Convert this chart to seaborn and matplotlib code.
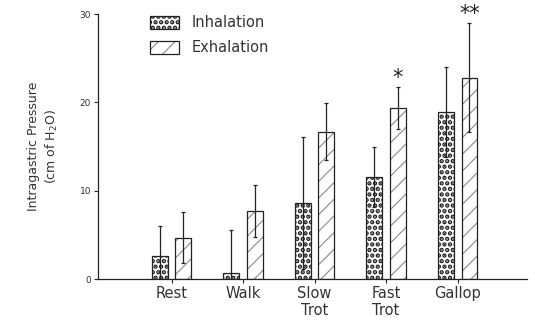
import matplotlib
matplotlib.use("Agg")
import matplotlib.pyplot as plt
import matplotlib.colors as mcolors
import seaborn as sns
import pandas as pd

# ---- data ----
activities = ["Rest", "Walk", "Slow\nTrot", "Fast\nTrot", "Gallop"]
inhalation = [2.6, 0.7, 8.6, 11.6, 18.9]
inhalation_sd = [3.4, 4.9, 7.5, 3.4, 5.1]
exhalation = [4.7, 7.7, 16.7, 19.4, 22.8]
exhalation_sd = [2.9, 2.9, 3.2, 2.4, 6.2]
exhalation_sig = ["", "", "", "*", "**"]
phases = ["Inhalation", "Exhalation"]
y_ticks = [0, 10, 20, 30]

df = pd.DataFrame({
    "activity": activities * 2,
    "pressure": inhalation + exhalation,
    "phase": [phases[0]] * len(activities) + [phases[1]] * len(activities),
})

sns.set_style("white")
plt.rcParams["font.family"] = ["DejaVu Sans"]
plt.rcParams["hatch.linewidth"] = 0.8

fig = plt.figure(figsize=(5.35, 3.2), dpi=100)
ax = fig.add_axes([0.183, 0.128, 0.802, 0.828])

sns.barplot(data=df, x="activity", y="pressure", hue="phase",
            palette=["white", "white"], edgecolor="#222222", linewidth=0.9,
            errorbar=None, width=0.66, gap=0.33, ax=ax, legend=False)

hatches = ["...", "//"]
hatch_colors = ["#1a1a1a", "#8a8a8a"]
hatch_lw = [2.2, 0.8]


def style_patch(p, h, hc, hl):
    p.set_hatch(h)
    if hasattr(p, "set_hatchcolor"):
        p.set_hatchcolor(hc)
    else:
        p._hatch_color = mcolors.to_rgba(hc)
    if hasattr(p, "set_hatch_linewidth"):
        p.set_hatch_linewidth(hl)
    else:
        p._hatch_linewidth = hl


for cont, h, hc, hl in zip(ax.containers, hatches, hatch_colors, hatch_lw):
    for p in cont.patches:
        style_patch(p, h, hc, hl)

# error bars
for cont, vals, sds in zip(ax.containers, [inhalation, exhalation], [inhalation_sd, exhalation_sd]):
    xs = [p.get_x() + p.get_width() / 2 for p in cont.patches]
    lower = [min(s, v) for v, s in zip(vals, sds)]
    ax.errorbar(xs, vals, yerr=[lower, sds], fmt="none", ecolor="#222222",
                elinewidth=0.9, capsize=1.2, capthick=0.9, zorder=5)

# significance marks
xs_exh = [p.get_x() + p.get_width() / 2 for p in ax.containers[1].patches]
for x, v, s, sig in zip(xs_exh, exhalation, exhalation_sd, exhalation_sig):
    if sig:
        ax.annotate(sig, (x, v + s), xytext=(0, -1), textcoords="offset points",
                    ha="center", va="bottom", fontsize=15, color="#222222",
                    annotation_clip=False)

ax.set_xlim(-1.03, 4.97)
ax.set_ylim(0, 30)
ax.set_yticks(y_ticks)
ax.set_yticklabels([str(t) for t in y_ticks], fontsize=6.5, color="#333333")
ax.tick_params(axis="y", direction="out", length=3, width=0.8, left=True, pad=2)
ax.tick_params(axis="x", direction="out", length=3, width=0.8, bottom=True,
               labelsize=10.5, labelcolor="#333333", pad=2)
ax.set_xlabel("")
ax.set_ylabel("Intragastric Pressure\n(cm of H$_2$O)", fontsize=9, color="#333333",
              labelpad=14, linespacing=1.3)
for s in ["top", "right"]:
    ax.spines[s].set_visible(False)
for s in ["left", "bottom"]:
    ax.spines[s].set_color("#222222")
    ax.spines[s].set_linewidth(0.9)

leg = ax.legend(handles=list(ax.containers), labels=phases, loc="upper left",
                bbox_to_anchor=(0.09, 1.045), frameon=False, fontsize=10.5,
                handlelength=2.0, handleheight=1.0, handletextpad=0.9,
                labelspacing=0.7, labelcolor="#333333")
for p, h, hc, hl in zip(leg.get_patches(), hatches, hatch_colors, hatch_lw):
    style_patch(p, h, hc, hl)

fig.savefig("out.png", dpi=100)
